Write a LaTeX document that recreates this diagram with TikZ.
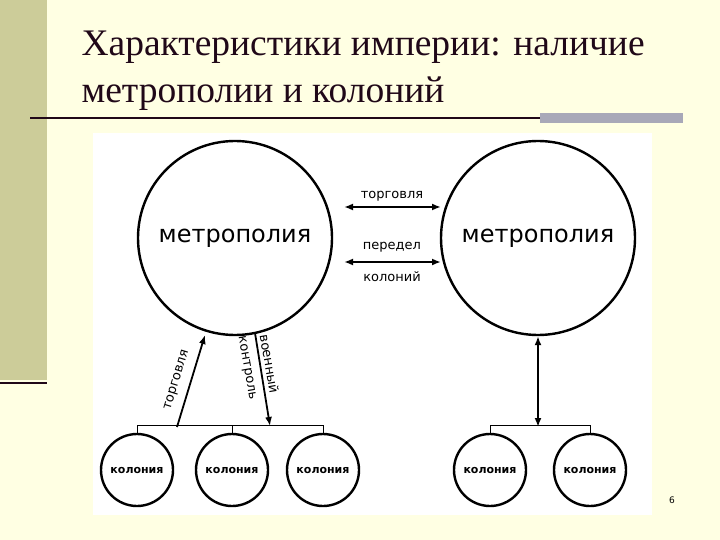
\documentclass[tikz,border=0pt]{standalone}
\usepackage{fontspec}
\setmainfont{Liberation Serif}
\newfontfamily\dsans{DejaVu Sans}
\usetikzlibrary{arrows.meta}
\definecolor{bgc}{HTML}{FFFFE3}
\definecolor{strip}{HTML}{CCCC99}
\definecolor{barc}{HTML}{A8A8B8}
\definecolor{titc}{HTML}{200818}
\begin{document}
\begin{tikzpicture}[x=1pt,y=-1pt,
  big/.style={circle,draw,line width=2.4pt,minimum size=194pt,inner sep=0pt,font=\dsans\fontsize{24}{28}\selectfont},
  small/.style={circle,draw,line width=2.4pt,minimum size=72pt,inner sep=0pt,font=\dsans\bfseries\fontsize{11}{12}\selectfont},
  lbl/.style={font=\dsans\fontsize{13}{14}\selectfont,inner sep=1pt},
  arr/.style={line width=1.8pt,-{Latex[length=9pt,width=7pt]}},
  darr/.style={line width=1.8pt,{Latex[length=9pt,width=7pt]}-{Latex[length=9pt,width=7pt]}},
  br/.style={line width=1pt}]
\useasboundingbox (0,0) rectangle (720,540);
\fill[bgc] (0,0) rectangle (720,540);
\fill[strip] (0,0) rectangle (47,380);
\draw[line width=2pt,titc] (0,383) -- (47,383);
\node[anchor=west,text=titc,font=\fontsize{37.5}{47}\selectfont,align=left] (title) at (78,71) {Характеристики империи: наличие\\метрополии и колоний};
\fill[barc] (540,113) rectangle (683,123);
\draw[line width=1.5pt,titc] (30,118) -- (540,118);
\fill[white] (93,133) rectangle (652,515);
\node[big] (m1) at (235,238) {метрополия};
\node[big] (m2) at (538,238) {метрополия};
\node[small] (c1) at (137,470) {колония};
\node[small] (c2) at (232,470) {колония};
\node[small] (c3) at (323,470) {колония};
\node[small] (c4) at (490,470) {колония};
\node[small] (c5) at (590,470) {колония};
% brackets
\draw[br] (c1.north) -- ++(0,-7) coordinate (b1) -- (b1 -| c3.north) -- (c3.north);
\draw[br] (c2.north) -- ++(0,-7);
\draw[br] (c4.north) -- ++(0,-7) coordinate (b4) -- (b4 -| c5.north) -- (c5.north);
\coordinate (ta) at (177,427);
\coordinate (tb) at (205,335);
\coordinate (va) at (255,333);
\coordinate (vb) at (270,426);
\draw[arr] (ta) -- (tb);
\node[lbl,rotate=73] (tl) at (177,380) {торговля};
\draw[arr] (va) -- (vb);
\node[lbl,rotate=-80,align=center,font=\dsans\fontsize{13}{21}\selectfont] (vl) at (258,366) {военный\\контроль};
\coordinate (rv) at (538,427);
\draw[darr] (m2.south) -- (rv);
\draw[darr] (344,207) -- (441,207);
\node[lbl] (t1) at (392,196) {торговля};
\draw[darr] (344,262) -- (441,262);
\node[lbl] (t2) at (392,247) {передел};
\node[lbl] (t3) at (392,277) {колоний};
\node[font=\dsans\fontsize{9}{10}\selectfont] (pg) at (672,500) {6};
\end{tikzpicture}
\end{document}
